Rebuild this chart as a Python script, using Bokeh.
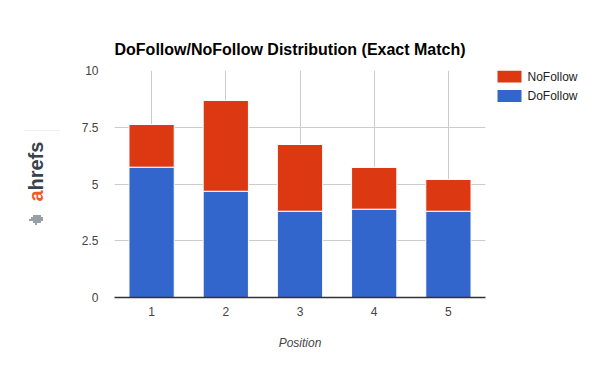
from bokeh.plotting import figure
from bokeh.models import Range1d, FixedTicker
from bokeh.layouts import row
from bokeh.core.properties import value
from bokeh.embed import file_html
from bokeh.resources import INLINE
import math

positions = [1, 2, 3, 4, 5]
dofollow = [5.74, 4.68, 3.80, 3.89, 3.80]
nofollow = [1.88, 4.00, 2.94, 1.84, 1.40]
y_ticks = [0, 2.5, 5, 7.5, 10]
y_tick_labels = ["0", "2.5", "5", "7.5", "10"]
series = ["DoFollow", "NoFollow"]
colors = ["#3366CC", "#DC3912"]
legend_order = ["NoFollow", "DoFollow"]
legend_colors = ["#DC3912", "#3366CC"]
logo_parts = ["a", "hrefs"]
logo_colors = ["#f3581f", "#37424d"]
# little dotted logo icon, rows of dots (1 = dot)
icon_pattern = ["0011110",
                "0111111",
                "1111111",
                "0011110",
                "0001000"]

FONT = "Liberation Sans"
H = 361
TOP, BOTTOM = 70, 297          # frame top/bottom in page pixels
LOGO_W = 60
MAIN_W = 430
LEG_W = 101


def strip(width):
    fig = figure(width=width, height=H, output_backend="svg", toolbar_location=None,
                 x_range=Range1d(0, width), y_range=Range1d(BOTTOM, TOP),
                 min_border_left=0, min_border_right=0,
                 min_border_top=TOP, min_border_bottom=H - BOTTOM)
    fig.axis.visible = False
    fig.grid.visible = False
    fig.outline_line_color = None
    return fig


# --- logo strip ---
lg = strip(LOGO_W)
lg.segment(x0=[23], y0=[130], x1=[63], y1=[130], line_color="#eeeeee", line_width=1)
lg.text(x=[35, 35], y=[201, 190], text=logo_parts, angle=math.pi / 2,
        text_align="left", text_baseline="alphabetic", text_font=value(FONT),
        text_font_size="20px", text_font_style="bold", text_color=logo_colors)
ix, iy = [], []
for r, line in enumerate(icon_pattern):
    for c, ch in enumerate(line):
        if ch == "1":
            ix.append(29.5 + 2 * c)
            iy.append(215.5 + 2 * r)
lg.rect(x=ix, y=iy, width=1.5, height=1.5, fill_color="#4a5563", line_color=None)

# --- main chart ---
p = figure(width=MAIN_W, height=H, output_backend="svg", toolbar_location=None,
           x_range=Range1d(0.5, 5.5), y_range=Range1d(0, 10),
           min_border_left=114 - LOGO_W, min_border_right=LOGO_W + MAIN_W - 485,
           min_border_top=TOP, min_border_bottom=H - BOTTOM)
p.outline_line_color = None

p.title.text = "DoFollow/NoFollow Distribution (Exact Match)"
p.title.text_font = FONT
p.title.text_font_size = "16px"
p.title.text_font_style = "bold"
p.title.text_color = "#000000"
p.title.align = "left"
p.title.standoff = 25

data = {"pos": positions, "DoFollow": dofollow, "NoFollow": nofollow}
rs = p.vbar_stack(series, x="pos", width=0.61, color=colors, source=data,
                  line_color="white", line_width=1)

p.xaxis.ticker = FixedTicker(ticks=positions)
p.yaxis.ticker = FixedTicker(ticks=y_ticks)
p.yaxis.major_label_overrides = {t: l for t, l in zip(y_ticks, y_tick_labels)}
p.xaxis.major_label_overrides = {t: str(t) for t in positions}
for ax in (p.xaxis[0], p.yaxis[0]):
    ax.major_tick_line_color = None
    ax.minor_tick_line_color = None
    ax.major_label_text_font = FONT
    ax.major_label_text_font_size = "12px"
    ax.major_label_text_color = "#444444"
p.yaxis.axis_line_color = None
p.yaxis.major_label_standoff = 10
p.xaxis.axis_line_color = "#333333"
p.xaxis.axis_line_width = 1.5
p.xaxis.major_label_standoff = 3
p.xaxis.axis_label = "Position"
p.xaxis.axis_label_text_font = FONT
p.xaxis.axis_label_text_font_size = "12px"
p.xaxis.axis_label_text_font_style = "italic"
p.xaxis.axis_label_text_color = "#444444"
p.xaxis.axis_label_standoff = 17

p.xgrid.ticker = FixedTicker(ticks=positions)
p.ygrid.ticker = FixedTicker(ticks=[2.5, 5, 7.5, 10])
p.xgrid.grid_line_color = "#cccccc"
p.ygrid.grid_line_color = "#cccccc"

# --- legend strip ---
lf = strip(LEG_W)
row_y = [76 + 19.5 * i for i in range(len(legend_order))]
lf.rect(x=[19] * len(legend_order), y=row_y, width=24, height=12,
        fill_color=legend_colors, line_color=None)
lf.text(x=[37] * len(legend_order), y=row_y, text=legend_order,
        text_align="left", text_baseline="middle", text_font=value(FONT),
        text_font_size="12px", text_color="#222222")

layout = row(lg, p, lf)
layout.spacing = 0
open("out.html", "w").write(file_html(layout, INLINE))
